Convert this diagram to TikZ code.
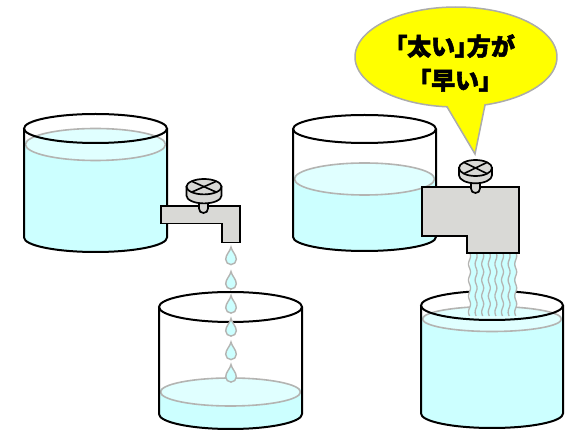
\documentclass[tikz,border=0pt]{standalone}
\usepackage{fontspec}
\newfontfamily\cjk{Noto Sans CJK JP}[FakeBold=2.2, RawFeature=+palt]
\definecolor{water}{RGB}{204,255,255}
\definecolor{watertop}{RGB}{224,255,255}
\definecolor{surf}{RGB}{180,180,178}
\definecolor{metal}{RGB}{217,217,214}
\definecolor{bubblefill}{RGB}{255,255,0}
\definecolor{bubbleedge}{RGB}{172,172,170}

\tikzset{
  glass/.style={draw=black, line width=2pt},
  surface/.style={draw=surf, line width=1.6pt, fill=watertop},
  tapbody/.style={draw=black, line width=1.7pt, fill=metal, line join=miter},
  knobline/.style={draw=black, line width=1.6pt, line cap=round},
  droplet/.style={draw=surf, line width=1.4pt, fill=water},
  streamline/.style={draw=surf, line width=1.3pt},
  balloon/.style={draw=bubbleedge, line width=1.5pt, fill=bubblefill},
  msgtext/.style={font=\cjk\bfseries\fontsize{24}{34}\selectfont, align=center, text=black}
}

% lower half of an ellipse, left point to right point
\newcommand\lowerarc[4]{.. controls (#1-#2,#3+0.5523*#4) and (#1-0.5523*#2,#3+#4) .. (#1,#3+#4) .. controls (#1+0.5523*#2,#3+#4) and (#1+#2,#3+0.5523*#4) .. (#1+#2,#3)}
% lower half of an ellipse, right point to left point
\newcommand\lowerarcback[4]{.. controls (#1+#2,#3+0.5523*#4) and (#1+0.5523*#2,#3+#4) .. (#1,#3+#4) .. controls (#1-0.5523*#2,#3+#4) and (#1-#2,#3+0.5523*#4) .. (#1-#2,#3)}
% upper half of an ellipse, right point to left point
\newcommand\upperarc[4]{.. controls (#1+#2,#3-0.5523*#4) and (#1+0.5523*#2,#3-#4) .. (#1,#3-#4) .. controls (#1-0.5523*#2,#3-#4) and (#1-#2,#3-0.5523*#4) .. (#1-#2,#3)}

% glass tank: centre x, radius x, rim y, rim radius y, water y, water radius y, bottom y
\newcommand\drawtank[7]{%
  \fill[water] (#1-#2,#5) -- (#1-#2,#7) \lowerarc{#1}{#2}{#7}{#4} -- (#1+#2,#5) \upperarc{#1}{#2}{#5}{#6} -- cycle;
  \draw[surface] (#1,#5) ellipse[x radius=#2-1.5, y radius=#6];
  \draw[glass] (#1-#2,#3) -- (#1-#2,#7) \lowerarc{#1}{#2}{#7}{#4} -- (#1+#2,#3);
  \draw[glass] (#1,#3) ellipse[x radius=#2, y radius=#4];
}

% tap handle: centre x, top y, radius x, radius y, height
\newcommand\drawknob[5]{%
  \draw[tapbody] (#1-#3,#2) -- (#1-#3,#2+#5) \lowerarc{#1}{#3}{#2+#5}{#4} -- (#1+#3,#2) -- cycle;
  \draw[tapbody] (#1,#2) ellipse[x radius=#3, y radius=#4];
  \draw[knobline] (#1-0.66*#3,#2-0.66*#4) -- (#1+0.66*#3,#2+0.66*#4);
  \draw[knobline] (#1-0.66*#3,#2+0.66*#4) -- (#1+0.66*#3,#2-0.66*#4);
}

% stem under a handle: left x, right x, top y, bottom y
\newcommand\drawstem[4]{%
  \draw[tapbody] (#1,#3) -- (#1,#4-0.5*#2+0.5*#1) .. controls (#1,#4-0.2*#2+0.2*#1) and (0.8*#1+0.2*#2,#4) .. (0.5*#1+0.5*#2,#4) .. controls (0.2*#1+0.8*#2,#4) and (#2,#4-0.2*#2+0.2*#1) .. (#2,#4-0.5*#2+0.5*#1) -- (#2,#3);
}

% falling drop: centre x, tip y
\newcommand\drawdrop[2]{%
  \draw[droplet] (#1,#2) .. controls (#1+0.8,#2+4.5) and (#1+5.3,#2+7.5) .. (#1+5.3,#2+12.4)
    \lowerarcback{#1}{5.3}{#2+12.4}{5.2}
    .. controls (#1-5.3,#2+7.5) and (#1-0.8,#2+4.5) .. (#1,#2) -- cycle;
}

\begin{document}
\begin{tikzpicture}[x=1pt, y=-1pt]
  \useasboundingbox (0,0) rectangle (574,430);
  \fill[white] (0,0) rectangle (574,430);

  % ---------- left: thin tap ----------
  \drawtank{95.5}{71.5}{128.5}{14.5}{144.5}{16}{237.5}
  \drawtank{230.5}{71.5}{307}{15}{392}{14}{414}

  \draw[tapbody] (161,206) -- (240,206) -- (240,242.5) -- (222,242.5) -- (222,223.5) -- (161,223.5) -- cycle;
  \drawstem{199}{208}{198}{213}
  \drawknob{204}{186.7}{17.5}{7.7}{9}

  \foreach \t in {247,271.5,295.5,318.5,342,364.5}
    \drawdrop{231}{\t};

  % ---------- right: thick tap ----------
  \drawtank{364.5}{71.5}{129}{14}{179}{16}{237}
  \drawtank{492}{71}{305.5}{14.5}{319}{12.5}{413.5}

  \fill[water] (469.5,252) rectangle (515.7,316);
  \foreach \i in {0,...,7}
    \draw[streamline] plot[domain=252:316, samples=40, smooth]
      ({469.5+6.6*\i+1.0*sin((\x-252)*22.5)}, \x);

  \draw[tapbody] (422,187) -- (519,187) -- (519,253) -- (467,253) -- (467,236) -- (422,236) -- cycle;
  \drawstem{471}{480}{180}{193}
  \drawknob{475.5}{168}{16.5}{8}{7.3}

  % ---------- speech balloon ----------
  \coordinate (tip) at (475,154);
  \draw[balloon] (tip) -- plot[domain=73.3:-264.9, samples=160] ({456+101*cos(\x)}, {57+50*sin(\x)}) -- cycle;
  \node[msgtext] (msg) at (455,63) {「太い」方が\\「早い」};
\end{tikzpicture}
\end{document}
